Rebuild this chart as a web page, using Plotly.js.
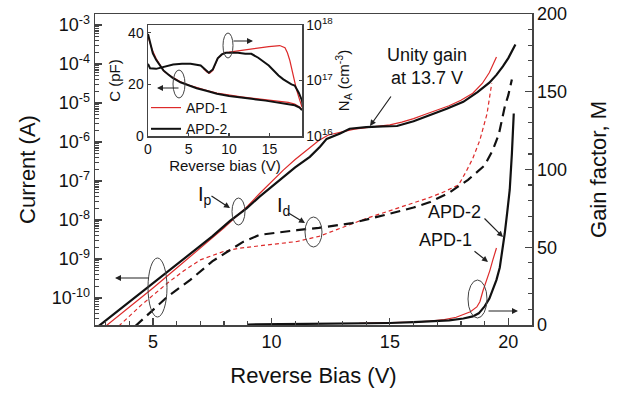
<!DOCTYPE html>
<html><head><meta charset="utf-8">
<script src="https://cdn.plot.ly/plotly-3.0.1.min.js"></script>
<style>html,body{margin:0;padding:0;background:#fff}#chart{width:624px;height:394px}</style>
</head><body><div id="chart"></div>
<script>
// ---- Main panel: photocurrent Ip and dark current Id (log10 A) vs reverse bias (V)
const ipX1 = [3.0,4.0,5.0,6.0,7.0,7.5,8.0,8.5,9.0,9.5,10.0,10.5,11.0,11.5,12.0,12.4,12.9,13.5,14.0,14.5,15.0,15.5,16.0,16.5,17.0,17.5,18.0,18.5,18.9,19.2,19.5];
const ipLog1 = [-10.72,-10.24,-9.74,-9.23,-8.72,-8.47,-8.2,-7.92,-7.64,-7.32,-7.01,-6.72,-6.45,-6.2,-5.96,-5.82,-5.75,-5.67,-5.63,-5.6,-5.56,-5.49,-5.4,-5.29,-5.18,-5.07,-4.93,-4.75,-4.5,-4.22,-3.82];
const ipX2 = [2.7,3.5,4.5,5.5,6.5,7.5,8.25,8.95,9.5,10.36,11.0,11.62,12.05,12.33,12.9,13.3,14.0,14.7,15.3,16.0,16.7,17.4,18.1,18.7,19.2,19.5,19.77,20.0,20.3];
const ipLog2 = [-10.72,-10.34,-9.86,-9.38,-8.9,-8.42,-8.02,-7.7,-7.4,-6.97,-6.65,-6.38,-6.12,-5.92,-5.78,-5.66,-5.62,-5.6,-5.59,-5.47,-5.32,-5.15,-4.97,-4.72,-4.48,-4.28,-4.06,-3.85,-3.5];
const idX1 = [3.55,4.5,5.6,6.3,7.0,7.5,8.0,8.67,9.5,10.5,11.08,12.0,13.0,14.0,14.7,15.5,16.6,17.2,17.9,18.2,18.5,18.8,19.1,19.3];
const idLog1 = [-10.72,-10.18,-9.62,-9.3,-9.02,-8.9,-8.8,-8.72,-8.66,-8.6,-8.55,-8.42,-8.18,-7.96,-7.82,-7.66,-7.44,-7.3,-7.1,-6.78,-6.42,-5.95,-5.28,-4.5];
const idX2 = [4.25,5.0,5.6,6.56,7.5,8.12,8.8,9.5,10.5,11.08,12.0,12.76,13.4,14.2,15.1,16.0,16.7,17.5,18.3,19.0,19.35,19.6,19.85,20.0,20.15];
const idLog2 = [-10.72,-10.3,-9.97,-9.54,-9.06,-8.82,-8.56,-8.38,-8.3,-8.26,-8.2,-8.13,-8.08,-7.96,-7.82,-7.68,-7.54,-7.3,-6.97,-6.6,-6.2,-5.8,-5.1,-4.8,-4.4];
// ---- Gain factor M (right axis)
const gX1 = [13.7,15.0,16.0,16.7,17.3,17.8,18.1,18.4,18.67,18.8,18.93,19.1,19.22,19.35,19.5];
const gM1 = [1,1.3,1.8,2.5,3.5,5,6.5,8.5,11.6,15,22,29,35,42,49.5];
const gX2 = [9.0,11.0,13.0,13.7,15.0,16.0,17.0,17.5,18.1,18.5,18.75,19.0,19.2,19.35,19.5,19.64,19.75,19.85,19.95,20.06,20.15,20.23];
const gM2 = [0.3,0.5,0.8,1,1.3,1.8,2.5,3,4.2,5.5,7.5,12,17,22.5,29,37,47,59,72,87,110,136];
// ---- Inset: capacitance C (pF) and doping N_A (log10 cm^-3)
const cX1 = [0,0.5,1,2,3,4,5,6,7.3,8.5,10,11.5,13,14.5,15.6,16.5,17.3,18.1,18.7,19.0];
const cV1 = [38.5,33.5,30,25,22.8,21,19.7,18.7,17.6,16.6,15.8,15.2,14.6,14.1,13.7,13.4,13.0,12.4,11.2,10.2];
const cX2 = [0,0.3,0.6,1.0,1.5,1.9,2.5,3.0,4.0,5.0,6.0,7.3,8.5,10.0,11.5,13.0,14.5,15.6,16.5,17.3,18.1,18.7,19.0];
const cV2 = [39.5,36,32,29.5,27,25.4,23.8,22.6,20.8,19.5,18.5,17.4,16.4,15.5,15,14.3,13.7,13.1,12.7,12.3,11.9,11,10];
const nX1 = [6.8,7.3,7.6,8.0,8.6,9.4,10.0,11.0,12.3,13.5,14.9,15.6,16.25,16.9,17.2,17.5,17.8,18.0,18.3,18.6,19.0];
const nLog1 = [17.22,17.15,17.13,17.18,17.4,17.5,17.51,17.53,17.57,17.59,17.61,17.62,17.63,17.59,17.5,17.36,17.17,17.0,16.85,16.7,16.52];
const nX2 = [0,0.25,1.0,2.0,3.1,4.2,5.25,6.5,7.0,7.5,8.0,8.6,9.1,9.6,10.5,11.1,12.0,12.75,13.6,14.3,14.9,15.5,16.1,16.7,17.3,17.7,18.1,18.6,19.0,19.2];
const nLog2 = [17.30,17.22,17.21,17.25,17.29,17.30,17.30,17.27,17.2,17.14,17.2,17.4,17.47,17.5,17.5,17.5,17.48,17.48,17.41,17.33,17.27,17.18,17.09,17.02,16.96,16.93,16.91,16.78,16.64,16.45];
// ---- Tick labels
const curTickExp = [-10,-9,-8,-7,-6,-5,-4,-3];
const curTickText = curTickExp.map(e => '10<sup>' + e + '</sup>');
const gainTicks = [0,50,100,150,200];
const biasTicks = [5,10,15,20];
const insetBiasTicks = [0,5,10,15];
const cTicks = [0,20,40];
const nTickExp = [16,17,18];
const nTickText = nTickExp.map(e => '10<sup>' + e + '</sup>');

const pow10 = a => a.map(v => Math.pow(10, v));
const RED = '#dd2a2a', BLK = '#111111', AX = '#444444';
const FONT = 'Liberation Sans, Arial, sans-serif';

// pixel -> paper helpers (main plot area: x 95..532, y 14..325)
const L = 95, R = 532, T = 14, B = 325;
const px = v => (v - L) / (R - L);
const py = v => (B - v) / (B - T);

const minorLog = [];
for (let e = -11; e <= -3; e++) for (let k = 2; k <= 9; k++) minorLog.push(k * Math.pow(10, e));

const traces = [
  {x: ipX1, y: pow10(ipLog1), xaxis:'x', yaxis:'y', mode:'lines', line:{color:RED, width:1.2}, showlegend:false},
  {x: ipX2, y: pow10(ipLog2), xaxis:'x', yaxis:'y', mode:'lines', line:{color:BLK, width:2.2}, showlegend:false},
  {x: idX1, y: pow10(idLog1), xaxis:'x', yaxis:'y', mode:'lines', line:{color:RED, width:1.2, dash:'4px,3px'}, showlegend:false},
  {x: idX2, y: pow10(idLog2), xaxis:'x', yaxis:'y', mode:'lines', line:{color:BLK, width:2.2, dash:'10px,6px'}, showlegend:false},
  {x: gX1, y: gM1, xaxis:'x', yaxis:'y2', mode:'lines', line:{color:RED, width:1.2}, showlegend:false},
  {x: gX2, y: gM2, xaxis:'x', yaxis:'y2', mode:'lines', line:{color:BLK, width:2.2}, showlegend:false},
  {x: cX1, y: cV1, xaxis:'x2', yaxis:'y3', mode:'lines', name:'APD-1', line:{color:RED, width:1.2}},
  {x: cX2, y: cV2, xaxis:'x2', yaxis:'y3', mode:'lines', name:'APD-2', line:{color:BLK, width:2}},
  {x: nX1, y: pow10(nLog1), xaxis:'x2', yaxis:'y4', mode:'lines', line:{color:RED, width:1.2}, showlegend:false},
  {x: nX2, y: pow10(nLog2), xaxis:'x2', yaxis:'y4', mode:'lines', line:{color:BLK, width:2}, showlegend:false}
];

const axBase = {showline:true, linecolor:AX, linewidth:1.5, showgrid:false, zeroline:false, tickcolor:AX, tickwidth:1.2, ticks:'inside'};

const ix0 = px(148), ix1 = px(302), iy0 = py(136), iy1 = py(25);

function arrow(hx, hy, tx, ty) {
  return {xref:'paper', yref:'paper', x:px(hx), y:py(hy), ax:tx-hx, ay:ty-hy, text:'', showarrow:true,
          arrowhead:2, arrowsize:1, arrowwidth:1.2, arrowcolor:'#222'};
}
function label(cx, cy, text, size) {
  return {xref:'paper', yref:'paper', x:px(cx), y:py(cy), text:text, showarrow:false,
          xanchor:'center', yanchor:'middle', font:{size:size, color:'#111', family:FONT}};
}
function ell(x0, y0, x1, y1) {
  return {type:'circle', xref:'paper', yref:'paper', x0:px(x0), x1:px(x1), y0:py(y1), y1:py(y0),
          line:{color:'#444', width:1}};
}

const layout = {
  width:624, height:394, margin:{l:L, r:624-R, t:T, b:394-B},
  paper_bgcolor:'#fff', plot_bgcolor:'#fff',
  font:{family:FONT, color:'#111', size:18},
  showlegend:true,
  legend:{x:px(146), y:py(92), xanchor:'left', yanchor:'top', bgcolor:'rgba(0,0,0,0)',
          font:{size:14}, itemwidth:30, tracegroupgap:0},
  xaxis: Object.assign({}, axBase, {domain:[0,1], anchor:'y', range:[2.55,21], tickmode:'array', tickvals:biasTicks,
          ticklen:7, mirror:true, tickfont:{size:18},
          minor:{dtick:1, tick0:0, ticks:'inside', ticklen:4, tickcolor:AX},
          title:{text:'Reverse Bias (V)', font:{size:22}, standoff:16}}),
  yaxis: Object.assign({}, axBase, {type:'log', domain:[0,1], anchor:'x', range:[-10.69,-2.72], tickmode:'array',
          tickvals:pow10(curTickExp), ticktext:curTickText, ticklen:7, mirror:true, tickfont:{size:18},
          minor:{tickmode:'array', tickvals:minorLog, ticks:'inside', ticklen:4, tickcolor:AX},
          title:{text:'Current (A)', font:{size:22}, standoff:10}}),
  yaxis2: Object.assign({}, axBase, {overlaying:'y', side:'right', anchor:'x', range:[0,200], tickmode:'array',
          tickvals:gainTicks, ticklen:7, tickfont:{size:18},
          minor:{dtick:10, tick0:0, ticks:'inside', ticklen:4, tickcolor:AX},
          title:{text:'Gain factor, M', font:{size:22}, standoff:24}}),
  xaxis2: Object.assign({}, axBase, {domain:[ix0, ix1], anchor:'y3', range:[0,19], tickmode:'array', tickvals:insetBiasTicks,
          ticklen:3, mirror:true, tickfont:{size:14},
          title:{text:'Reverse bias (V)', font:{size:15}, standoff:1}}),
  yaxis3: Object.assign({}, axBase, {domain:[iy0, iy1], anchor:'x2', range:[0,43], tickmode:'array', tickvals:cTicks,
          ticklen:3, mirror:true, tickfont:{size:14},
          title:{text:'C (pF)', font:{size:15}, standoff:4}}),
  yaxis4: Object.assign({}, axBase, {overlaying:'y3', side:'right', anchor:'x2', type:'log', range:[16,18], tickmode:'array',
          tickvals:pow10(nTickExp), ticktext:nTickText, ticklen:3, tickfont:{size:14},
          title:{text:'N<sub>A</sub> (cm<sup>-3</sup>)', font:{size:15}, standoff:4}}),
  shapes: [
    ell(232,198,245,225), ell(305,217,322,247), ell(148,258,167,317), ell(468,280,487,318),
    ell(223,33,233,58), ell(173,70,185,98)
  ],
  annotations: [
    label(427, 67, 'Unity gain<br>at 13.7 V', 18),
    arrow(370,126, 392,95),
    label(205, 196, 'I<sub>p</sub>', 20),
    arrow(230,208, 210,195),
    label(283, 206, 'I<sub>d</sub>', 20),
    arrow(305,223, 287,212),
    arrow(115,278, 150,278),
    arrow(518,311, 487,311),
    label(454, 212, 'APD-2', 18),
    arrow(503,237, 483,217),
    label(445, 240, 'APD-1', 18),
    arrow(488,262, 473,250),
    arrow(253,41, 232,41),
    arrow(157,88, 180,88)
  ]
};

Plotly.newPlot('chart', traces, layout, {staticPlot:true, displayModeBar:false});
</script></body></html>
